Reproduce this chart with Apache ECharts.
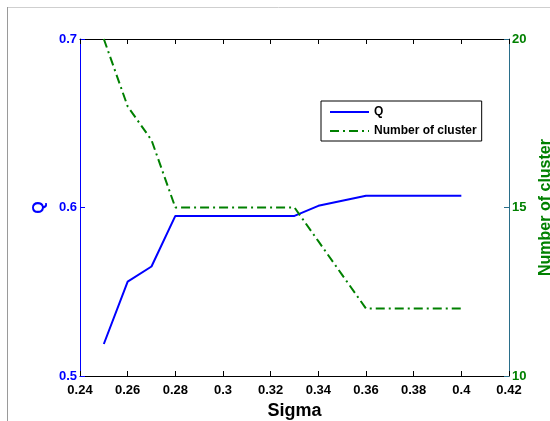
<!DOCTYPE html>
<html>
<head>
<meta charset="utf-8">
<script src="https://cdn.jsdelivr.net/npm/echarts@6/dist/echarts.min.js"></script>
<style>
  html, body { margin: 0; padding: 0; background: #fff; }
  #chart { width: 550px; height: 421px; }
</style>
</head>
<body>
<div id="chart"></div>
<script>
// values
const sigma = [0.25, 0.26, 0.27, 0.28, 0.29, 0.30, 0.31, 0.32, 0.33, 0.34, 0.35, 0.36, 0.37, 0.38, 0.39, 0.40];
const qValues = [0.519, 0.556, 0.565, 0.595, 0.595, 0.595, 0.595, 0.595, 0.595, 0.601, 0.604, 0.607, 0.607, 0.607, 0.607, 0.607];
const clusterCounts = [20, 18, 17, 15, 15, 15, 15, 15, 15, 14, 13, 12, 12, 12, 12, 12];
const qTicks = [0.5, 0.6, 0.7];
const clusterTicks = [10, 15, 20];

const FONT = '"Liberation Sans", Arial, sans-serif';
const BLUE = '#0000ff';
const GREEN = '#008000';

const chart = echarts.init(document.getElementById('chart'));

const trim = v => String(parseFloat(v.toFixed(2)));

chart.setOption({
    animation: false,
    backgroundColor: '#fff',
    textStyle: { fontFamily: FONT },
    grid: { left: 80, right: 41, top: 39, bottom: 45, containLabel: false, outerBoundsMode: 'none' },
    legend: {
        orient: 'vertical',
        left: 321, top: 101,
        backgroundColor: '#fff',
        borderColor: '#000', borderWidth: 1, borderRadius: 0,
        padding: [5, 5, 4, 8],
        itemWidth: 39, itemHeight: 12, itemGap: 7,
        itemStyle: { opacity: 0 },
        textStyle: { fontFamily: FONT, fontSize: 12, fontWeight: 'bold', color: '#000' },
        data: ['Q', 'Number of cluster']
    },
    graphic: [
        { type: 'line', shape: { x1: 7, y1: 7.5, x2: 550, y2: 7.5 }, style: { stroke: '#cfcfcf', lineWidth: 1 } },
        { type: 'line', shape: { x1: 7.5, y1: 7, x2: 7.5, y2: 421 }, style: { stroke: '#9a9a9a', lineWidth: 1 } }
    ],
    xAxis: [{
        type: 'value', min: 0.24, max: 0.42, interval: 0.02,
        name: 'Sigma', nameLocation: 'middle', nameGap: 18,
        nameTextStyle: { fontFamily: FONT, fontSize: 18, fontWeight: 'bold', color: '#000' },
        axisLine: { lineStyle: { color: '#000', width: 1 } },
        axisTick: { inside: true, length: 5, lineStyle: { color: '#000' } },
        axisLabel: { formatter: trim, color: '#000', fontSize: 13, fontWeight: 'bold', margin: 8 },
        splitLine: { show: false }
    }, {
        type: 'value', min: 0.24, max: 0.42, interval: 0.02, position: 'top',
        axisLine: { lineStyle: { color: '#000', width: 1 } },
        axisTick: { inside: true, length: 5, lineStyle: { color: '#000' } },
        axisLabel: { show: false },
        splitLine: { show: false }
    }],
    yAxis: [{
        type: 'value', min: qTicks[0], max: qTicks[qTicks.length - 1], interval: 0.1,
        name: 'Q', nameLocation: 'middle', nameGap: 29, nameRotate: 90,
        nameTextStyle: { fontFamily: FONT, fontSize: 16, fontWeight: 'bold', color: BLUE },
        axisLine: { show: true, lineStyle: { color: BLUE, width: 1 } },
        axisTick: { show: true, inside: true, length: 5, lineStyle: { color: BLUE } },
        axisLabel: { formatter: v => trim(v), color: BLUE, fontSize: 13, fontWeight: 'bold', margin: 3 },
        splitLine: { show: false }
    }, {
        type: 'value', min: clusterTicks[0], max: clusterTicks[clusterTicks.length - 1], interval: 5,
        position: 'right',
        name: 'Number of cluster', nameLocation: 'middle', nameGap: 18, nameRotate: 90,
        nameTextStyle: { fontFamily: FONT, fontSize: 16, fontWeight: 'bold', color: GREEN },
        axisLine: { show: true, lineStyle: { color: '#2a6e8a', width: 1 } },
        axisTick: { show: true, inside: true, length: 5, lineStyle: { color: '#2a6e8a' } },
        axisLabel: { color: GREEN, fontSize: 13, fontWeight: 'bold', margin: 3 },
        splitLine: { show: false }
    }],
    series: [{
        name: 'Q', type: 'line', yAxisIndex: 0,
        symbol: 'none',
        lineStyle: { color: BLUE, width: 2 },
        itemStyle: { color: BLUE },
        data: sigma.map((s, i) => [s, qValues[i]])
    }, {
        name: 'Number of cluster', type: 'line', yAxisIndex: 1,
        symbol: 'none',
        lineStyle: { color: GREEN, width: 2, type: [9, 4, 2, 4] },
        itemStyle: { color: GREEN },
        data: sigma.map((s, i) => [s, clusterCounts[i]])
    }]
});
</script>
</body>
</html>
